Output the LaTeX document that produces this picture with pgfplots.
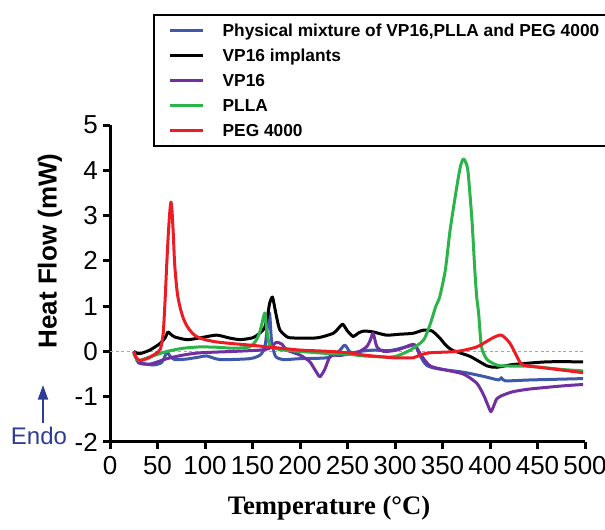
\documentclass[border=0pt]{standalone}
\usepackage{fontspec}
\setmainfont{Liberation Sans}
\newfontfamily\timesfont{Liberation Serif}
\usepackage{pgfplots}
\pgfplotsset{compat=1.18}
\usetikzlibrary{arrows.meta}

\definecolor{cBlue}{RGB}{62,88,170}
\definecolor{cPurple}{RGB}{112,48,160}
\definecolor{cGreen}{RGB}{44,180,74}
\definecolor{cRed}{RGB}{237,28,36}
\definecolor{cEndo}{RGB}{46,60,150}

\begin{document}
\begin{tikzpicture}
\useasboundingbox (-82.5pt,-66pt) rectangle (371.25pt,331.5pt);
\begin{axis}[
    scale only axis,
    width=356.25pt, height=237.75pt,
    xmin=0, xmax=500, ymin=-2, ymax=5,
    axis x line*=bottom, axis y line*=left,
    axis line style={line width=2.25pt, -},
    xtick distance=50, ytick distance=1,
    minor tick num=0,
    tick align=outside, major tick length=5.25pt,
    every tick/.style={black, line width=2.25pt},
    tick label style={font=\fontsize{19.5}{19.5}\selectfont},
    /pgf/number format/assume math mode=true,
    xticklabel style={yshift=-2pt},
    yticklabel style={inner sep=0pt, xshift=-3.75pt},
    clip=false,
    legend cell align=left,
    legend image code/.code={\draw[#1] (0pt,0pt) -- (24.75pt,0pt);},
    legend style={
        at={(rel axis cs:0.0905,1.3502)}, anchor=north west,
        draw=black, line width=1.5pt, fill=white,
        inner xsep=10.9pt, inner ysep=5.4pt,
        row sep=6.25pt, column sep=13.6pt,
        font=\fontsize{13}{13}\selectfont\bfseries,
        nodes={inner sep=0pt, text height=11pt, text depth=1.5pt},
    },
    every axis plot/.append style={line width=2.25pt, line join=round, smooth, tension=0.4},
]
\addplot[forget plot, gray!70, dotted, line width=0.6pt, sharp plot] coordinates {(0,0) (500,0)};

% Physical mixture
\addplot[cBlue] coordinates {
(25,0.0) (30,-0.23) (45,-0.3) (54,-0.25) (58,-0.1) (60,0.0) (63,-0.1) (68,-0.18)
(80,-0.17) (95,-0.12) (102,-0.1) (116,-0.18) (147,-0.16) (158,-0.08) (163,0.1)
(166,0.6) (168,0.85) (170,0.25) (174,-0.1) (182,-0.18) (200,-0.16) (228,-0.14)
(240,-0.02) (247,0.14) (252,0.0) (255,-0.03) (263,0.0) (277,0.03) (295,0.02)
(312,0.1) (321,0.14) (326,-0.08) (333,-0.3) (344,-0.38) (372,-0.46) (393,-0.55)
(409,-0.63) (412,-0.58) (416,-0.65) (442,-0.63) (498,-0.6)
};
\addlegendentry{Physical mixture of VP16,PLLA and PEG 4000}

% VP16 implants
\addplot[black] coordinates {
(25,0.0) (31,-0.05) (42,0.03) (53,0.18) (58,0.3) (61,0.43) (64,0.38) (68,0.32)
(81,0.26) (95,0.3) (112,0.36) (125,0.3) (137,0.26) (150,0.3) (155,0.36) (160,0.45)
(163,0.54) (166,0.8) (168,1.06) (171,1.2) (174,0.9) (177,0.6) (179,0.47) (184,0.36)
(190,0.3) (218,0.3) (235,0.4) (240,0.5) (245,0.6) (250,0.45) (256,0.33) (261,0.4)
(267,0.45) (277,0.43) (291,0.36) (305,0.38) (319,0.4) (330,0.47) (339,0.45)
(347,0.3) (353,0.15) (360,0.03) (379,-0.11) (397,-0.32) (407,-0.35) (424,-0.29)
(460,-0.23) (498,-0.23)
};
\addlegendentry{VP16 implants}

% VP16
\addplot[cPurple] coordinates {
(25,0.0) (30,-0.25) (42,-0.28) (60,-0.16) (77,-0.08) (95,-0.03) (130,0.0) (158,0.03)
(168,0.07) (175,0.2) (181,0.16) (186,0.03) (200,-0.08) (210,-0.22) (215,-0.38)
(218,-0.48) (221,-0.56) (226,-0.4) (232,-0.1) (242,-0.09) (251,-0.06) (260,-0.03)
(270,0.1) (274,0.25) (277,0.4) (281,0.1) (288,0.0) (302,0.03) (316,0.14) (321,0.14)
(328,-0.1) (337,-0.32) (351,-0.4) (372,-0.5) (386,-0.7) (393,-0.95) (398,-1.2)
(401,-1.33) (404,-1.2) (407,-1.05) (412,-0.98) (424,-0.89) (442,-0.83) (477,-0.76)
(498,-0.73)
};
\addlegendentry{VP16}

% PLLA
\addplot[cGreen] coordinates {
(25,-0.05) (30,-0.2) (42,-0.12) (60,0.0) (77,0.07) (95,0.1) (115,0.09) (130,0.07)
(147,0.1) (154,0.25) (158,0.45) (160,0.62) (163,0.85) (165,0.47) (168,0.14)
(175,0.06) (182,0.03) (200,0.0) (232,-0.05) (251,-0.06) (267,-0.1) (298,-0.12)
(316,0.03) (330,0.25) (337,0.6) (343,1.0) (347,1.2) (353,1.8) (358,2.68) (365,3.63)
(369,4.1) (372,4.25) (375,4.15) (377,3.94) (381,2.9) (384,1.8) (386,1.2) (388,0.85)
(391,0.1) (397,-0.18) (407,-0.3) (414,-0.32) (442,-0.33) (477,-0.4) (498,-0.43)
};
\addlegendentry{PLLA}

% PEG 4000
\addplot[cRed] coordinates {
(25,0.0) (28,-0.15) (32,-0.2) (40,-0.15) (48,-0.05) (53,0.05) (56,0.4) (58,1.14)
(59.6,1.87) (61.4,2.6) (63,3.1) (64.2,3.3) (65.3,3.1) (66.6,2.6) (68,1.95) (70,1.45)
(71.5,1.2) (73.7,0.98) (77,0.74) (81,0.56) (86,0.42) (91,0.33) (100,0.26)
(112,0.21) (130,0.17) (147,0.14) (176,0.08) (200,0.03) (232,0.0) (251,-0.03)
(267,-0.08) (298,-0.14) (319,-0.14) (326,-0.08) (337,-0.03) (365,0.0) (386,0.1)
(403,0.3) (412,0.36) (421,0.18) (430,-0.18) (435,-0.3) (460,-0.37) (498,-0.47)
};
\addlegendentry{PEG 4000}
\end{axis}

\node[rotate=90, font=\fontsize{19.5}{19.5}\selectfont\bfseries] at (-45pt,143.25pt) {Heat Flow (mW)};
\node[anchor=base, font=\timesfont\bfseries\fontsize{20}{20}\selectfont] at (164.25pt,-54pt) {Temperature (°C)};
\node[anchor=base, text=cEndo, font=\fontsize{18}{18}\selectfont] at (-53.25pt,-2.25pt) {Endo};
\draw[cEndo, line width=1.5pt, -{Triangle[width=7.5pt,length=11pt]}] (-50.25pt,14.25pt) -- (-50.25pt,42.75pt);
\end{tikzpicture}
\end{document}
